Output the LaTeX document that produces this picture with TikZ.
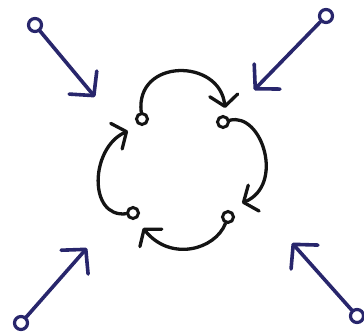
\documentclass[tikz,border=0pt]{standalone}
\usetikzlibrary{arrows.meta}
\definecolor{ink}{RGB}{40,38,108}
\definecolor{pen}{RGB}{20,20,20}
\begin{document}
\begin{tikzpicture}[x=1pt,y=-1pt,
  bluering/.style={circle,draw=ink,line width=3.2pt,minimum size=13pt,inner sep=0pt},
  bluearrow/.style={draw=ink,line width=3.6pt,line cap=round,-{Straight Barb[length=17pt,width=36pt,round]}},
  blackring/.style={circle,draw=pen,line width=3pt,minimum size=11pt,inner sep=0pt},
  cyclearrow/.style={draw=pen,line width=3.3pt,line cap=round,-{Straight Barb[length=11pt,width=28pt,round]}}]
\useasboundingbox (0,0) rectangle (364,336);

% outer blue arrows
\node[bluering] (r1) at (35,25) {};
\node[bluering] (r2) at (326,16) {};
\node[bluering] (r3) at (21,323) {};
\node[bluering] (r4) at (357,316) {};
\coordinate (t1) at (95,97);
\coordinate (t2) at (254,90);
\coordinate (t3) at (87,248);
\coordinate (t4) at (292,243);
\draw[bluearrow] (r1) -- (t1);
\draw[bluearrow] (r2) -- (t2);
\draw[bluearrow] (r3) -- (t3);
\draw[bluearrow] (r4) -- (t4);

% central cycle
\node[blackring] (c1) at (142,119) {};
\node[blackring] (c2) at (223,122) {};
\node[blackring] (c3) at (228,217) {};
\node[blackring] (c4) at (133,213) {};
\coordinate (e1) at (225,108);
\coordinate (e2) at (242,203);
\coordinate (e3) at (143,228);
\coordinate (e4) at (128,131);
\draw[cyclearrow] (c1) .. controls (135,58) and (220,58) .. (e1);
\draw[cyclearrow] (c2) .. controls (262,112) and (285,185) .. (e2);
\draw[cyclearrow] (c3) .. controls (215,250) and (170,262) .. (e3);
\draw[cyclearrow] (c4) .. controls (88,218) and (90,148) .. (e4);
\end{tikzpicture}
\end{document}
